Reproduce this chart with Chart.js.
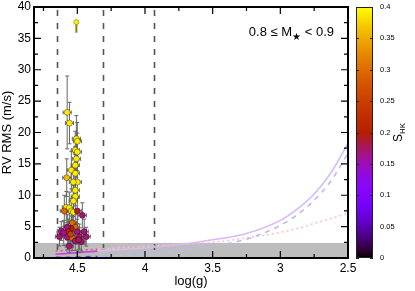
<!DOCTYPE html>
<html><head><meta charset="utf-8">
<script src="https://cdn.jsdelivr.net/npm/chart.js@4/dist/chart.umd.min.js"></script>
<style>html,body{margin:0;padding:0;background:#fff;overflow:hidden}#wrap{width:415px;height:291px;position:relative}</style>
</head><body><div id="wrap"><canvas id="c" width="415" height="291"></canvas></div>
<script>
// ---- data ----
const starLogg = [4.575,4.558,4.507,4.500,4.515,4.500,4.507,4.515,4.544,4.515,4.578,4.500,4.529,4.515,4.515,4.529,4.581,4.559,4.596,4.544,4.529,4.500,4.463,4.537,4.515,4.544,4.574,4.618,4.566,4.500,4.449,4.632,4.574,4.537,4.485,4.515,4.471,4.434,4.559,4.600,4.490,4.550];
const starRms = [23.2,21.5,19.0,18.6,17.2,16.9,15.8,14.8,14.0,13.5,12.8,12.1,12.1,10.8,9.8,9.1,8.1,8.0,7.5,7.5,7.3,7.5,6.8,5.6,4.9,4.7,4.9,4.3,4.2,4.2,4.2,3.4,3.3,3.2,3.4,2.7,2.6,3.4,1.9,4.0,2.9,3.8];
const starRmsErr = [5.8,3.3,3.7,3.0,3.0,3.0,3.0,3.0,3.0,3.0,3.0,2.5,2.5,2.5,2.5,2.5,2.5,2.5,2.5,2.0,2.0,2.0,2.0,2.0,2.0,2.0,2.0,1.5,2.0,2.0,2.0,1.5,2.0,2.0,2.0,1.5,1.5,1.5,1.0,2.0,2.0,2.0];
const starLoggErr = [0.03,0.03,0.03,0.03,0.03,0.03,0.03,0.03,0.03,0.03,0.03,0.03,0.03,0.03,0.03,0.03,0.03,0.03,0.03,0.03,0.03,0.03,0.03,0.03,0.03,0.03,0.03,0.03,0.03,0.03,0.03,0.03,0.03,0.03,0.03,0.03,0.03,0.03,0.03,0.03,0.03,0.03];
const starShk = [0.39,0.39,0.39,0.39,0.39,0.39,0.39,0.39,0.39,0.39,0.36,0.39,0.39,0.39,0.39,0.39,0.39,0.39,0.30,0.39,0.39,0.19,0.17,0.30,0.30,0.20,0.17,0.17,0.21,0.17,0.17,0.17,0.17,0.30,0.17,0.17,0.17,0.17,0.17,0.16,0.18,0.25];

const limitLogg = [4.507];
const limitRms = [37.6];
const limitErrLow = [1.7];
const limitShk = [0.39];

const modelLogg = [4.66,4.5,4.35,4.2,4.0,3.75,3.5,3.25,3.0,2.875,2.75,2.625,2.5];
const modelSolid = [0.6,0.85,1.1,1.3,1.6,2.1,2.9,3.9,6.0,7.8,10.2,13.6,18.3];
const modelDashed = [0.1,0.15,0.25,0.35,0.6,1.1,1.9,3.0,5.2,6.9,9.2,12.3,16.7];
const modelDotted = [1.1,1.25,1.4,1.6,1.85,2.15,2.5,3.2,4.1,4.7,5.5,6.3,7.1];
const modelStrongFrom = 4.35;

const noiseFloor = 2.4;
const boundaryLogg = [4.65, 4.31, 3.93];

const xTickValues = [4.75,4.5,4.25,4,3.75,3.5,3.25,3,2.75,2.5];
const yTickValues = [0,2.5,5,7.5,10,12.5,15,17.5,20,22.5,25,27.5,30,32.5,35,37.5,40];
const cbTickValues = [0,0.05,0.1,0.15,0.2,0.25,0.3,0.35,0.4];
const shkMax = 0.4;
const massLabel = ['0.8 \u2264 M', '\u2605', ' < 0.9'];

// ---- helpers ----
function shkColor(s){
  const t = Math.min(1, Math.max(0, s/shkMax));
  const r = Math.sqrt(t), g = t*t*t, b = Math.max(0, Math.sin(2*Math.PI*t));
  return 'rgb(' + Math.round(255*r) + ',' + Math.round(255*g) + ',' + Math.round(255*b) + ')';
}
const FONT = '"Liberation Sans", Arial, sans-serif';
const isMajor = (v, step) => Math.abs(v/step - Math.round(v/step)) < 1e-6;

function curve(vals, strong, faded, dash, width){
  return {
    data: modelLogg.map((v,i)=>({x:v, y:vals[i]})),
    showLine: true, pointRadius: 0, borderWidth: width, borderColor: faded,
    borderDash: dash, cubicInterpolationMode: 'monotone',
    segment: { borderColor: c => (c.p1.parsed.x >= modelStrongFrom - 1e-6 ? strong : faded) }
  };
}

const decor = {
  id: 'decor',
  beforeDatasetsDraw(chart){
    const {ctx, chartArea:a, scales:{x,y}} = chart;
    ctx.save();
    const yb = y.getPixelForValue(noiseFloor);
    ctx.fillStyle = '#bdbdbd';
    ctx.fillRect(a.left, yb, a.right - a.left, a.bottom - yb);
    ctx.strokeStyle = '#555'; ctx.lineWidth = 1.6; ctx.setLineDash([6,7]);
    boundaryLogg.forEach(v => {
      const px = Math.round(x.getPixelForValue(v)) + 0.5;
      ctx.beginPath(); ctx.moveTo(px, a.top + 3); ctx.lineTo(px, a.bottom); ctx.stroke();
    });
    ctx.restore();
  },
  beforeDatasetDraw(chart, args){
    const ds = chart.data.datasets[args.index];
    if (!ds.errLo) return;
    const {ctx, scales:{x,y}} = chart;
    ctx.save();
    ctx.strokeStyle = ds.errColor; ctx.lineWidth = ds.errWidth;
    ds.data.forEach((p, i) => {
      const px = x.getPixelForValue(p.x), py = y.getPixelForValue(p.y);
      const y0 = y.getPixelForValue(p.y - ds.errLo[i]), y1 = y.getPixelForValue(p.y + ds.errHi[i]);
      ctx.beginPath(); ctx.moveTo(px, y0); ctx.lineTo(px, y1); ctx.stroke();
      if (ds.caps) {
        ctx.beginPath();
        ctx.moveTo(px-2, y0); ctx.lineTo(px+2, y0);
        ctx.moveTo(px-2, y1); ctx.lineTo(px+2, y1);
        ctx.stroke();
      }
      if (ds.errX) {
        const x0 = x.getPixelForValue(p.x - ds.errX[i]), x1 = x.getPixelForValue(p.x + ds.errX[i]);
        ctx.beginPath(); ctx.moveTo(x0, py); ctx.lineTo(x1, py);
        ctx.moveTo(x0, py-2); ctx.lineTo(x0, py+2);
        ctx.moveTo(x1, py-2); ctx.lineTo(x1, py+2);
        ctx.stroke();
      }
    });
    ctx.restore();
  },
  afterDraw(chart){
    const {ctx, chartArea:a, scales:{x,y,cb}} = chart;
    ctx.save();
    ctx.strokeStyle = '#000'; ctx.lineWidth = 1.2;
    xTickValues.forEach(v => {
      const px = x.getPixelForValue(v), len = isMajor(v,0.5) ? 7 : 4;
      ctx.beginPath();
      ctx.moveTo(px, a.bottom); ctx.lineTo(px, a.bottom - len);
      ctx.moveTo(px, a.top); ctx.lineTo(px, a.top + len);
      ctx.stroke();
    });
    yTickValues.forEach(v => {
      const py = y.getPixelForValue(v), len = isMajor(v,5) ? 7 : 4;
      ctx.beginPath();
      ctx.moveTo(a.left, py); ctx.lineTo(a.left + len, py);
      ctx.moveTo(a.right, py); ctx.lineTo(a.right - len, py);
      ctx.stroke();
    });
    ctx.lineWidth = 2;
    ctx.strokeRect(a.left, a.top, a.right - a.left, a.bottom - a.top);

    // colour bar
    const cx0 = a.right + 8, cx1 = a.right + 25;
    const ct = cb.getPixelForValue(shkMax), cbt = cb.getPixelForValue(0);
    const grad = ctx.createLinearGradient(0, cbt, 0, ct);
    for (let k = 0; k <= 40; k++) grad.addColorStop(k/40, shkColor(shkMax*k/40));
    ctx.fillStyle = grad;
    ctx.fillRect(cx0, ct, cx1 - cx0, cbt - ct);
    ctx.strokeStyle = '#222'; ctx.lineWidth = 1;
    ctx.strokeRect(cx0 + 0.5, ct + 0.5, cx1 - cx0 - 1, cbt - ct - 1);
    cbTickValues.forEach(v => {
      const py = Math.round(cb.getPixelForValue(v)) + 0.5;
      ctx.beginPath();
      ctx.moveTo(cx0, py); ctx.lineTo(cx0 + 3, py);
      ctx.moveTo(cx1, py); ctx.lineTo(cx1 - 3, py);
      ctx.stroke();
    });
    // colour bar title S_HK
    ctx.fillStyle = '#000';
    ctx.translate(a.right + 54, (ct + cbt)/2);
    ctx.rotate(-Math.PI/2);
    ctx.font = '12px ' + FONT;
    const wS = ctx.measureText('S').width;
    ctx.font = '8px ' + FONT;
    const wH = ctx.measureText('HK').width;
    const start = -(wS + wH)/2;
    ctx.textBaseline = 'alphabetic'; ctx.textAlign = 'left';
    ctx.font = '12px ' + FONT; ctx.fillText('S', start, 0);
    ctx.font = '8px ' + FONT; ctx.fillText('HK', start + wS, 3);
    ctx.setTransform(1,0,0,1,0,0);

    // mass label
    ctx.fillStyle = '#000'; ctx.textBaseline = 'alphabetic'; ctx.textAlign = 'left';
    ctx.font = '13px ' + FONT;
    const w1 = ctx.measureText(massLabel[0]).width, w3 = ctx.measureText(massLabel[2]).width;
    ctx.font = '9.5px ' + FONT;
    const w2 = ctx.measureText(massLabel[1]).width;
    const right = a.right - 14, base = a.top + 29;
    let tx = right - (w1 + w2 + w3);
    ctx.font = '13px ' + FONT; ctx.fillText(massLabel[0], tx, base); tx += w1;
    ctx.font = '9.5px ' + FONT; ctx.fillText(massLabel[1], tx, base + 4); tx += w2;
    ctx.font = '13px ' + FONT; ctx.fillText(massLabel[2], tx, base);
    ctx.restore();
  }
};

const starPoints = starLogg.map((v,i)=>({x:v, y:starRms[i]}));
const limitPoints = limitLogg.map((v,i)=>({x:v, y:limitRms[i]}));

new Chart(document.getElementById('c'), {
  type: 'scatter',
  data: {
    datasets: [
      { data: starPoints, pointRadius: 3, pointBackgroundColor: starShk.map(shkColor),
        pointBorderColor: 'rgba(0,0,0,0.55)', pointBorderWidth: 0.7,
        errLo: starRmsErr, errHi: starRmsErr, errX: starLoggErr, errColor: '#666', errWidth: 1, caps: true },
      { data: limitPoints, pointRadius: 2.6, pointBackgroundColor: limitShk.map(shkColor),
        pointBorderColor: 'rgba(120,110,0,0.8)', pointBorderWidth: 0.6,
        errLo: limitErrLow, errHi: [0], errColor: '#8c7d14', errWidth: 2, caps: false },
      curve(modelSolid, 'rgb(200,60,230)', 'rgb(216,184,250)', [], 1.6),
      curve(modelDashed, 'rgb(70,70,230)', 'rgb(182,186,250)', [5,5], 1.6),
      curve(modelDotted, 'rgb(240,90,90)', 'rgb(255,192,192)', [2,3], 1.6)
    ]
  },
  options: {
    responsive: false, animation: false, devicePixelRatio: 1,
    layout: { padding: { top: 7, left: 0, right: 0, bottom: 0 } },
    plugins: { legend: { display: false }, tooltip: { enabled: false } },
    scales: {
      x: {
        type: 'linear', reverse: true, min: 2.5, max: 4.82,
        afterBuildTicks: s => { s.ticks = xTickValues.map(v => ({value: v})); },
        afterFit: s => { s.height = 33; s.paddingLeft = 0; s.paddingRight = 0; },
        grid: { display: false, drawTicks: false }, border: { display: false },
        ticks: { color: '#000', padding: 3, maxRotation: 0, autoSkip: false,
          font: { family: FONT, size: 12 },
          callback: v => isMajor(v, 0.5) ? String(v) : '' },
        title: { display: true, text: 'log(g)', color: '#000', font: { family: FONT, size: 13 }, padding: { top: 0, bottom: 2 } }
      },
      y: {
        type: 'linear', min: 0, max: 40,
        afterBuildTicks: s => { s.ticks = yTickValues.map(v => ({value: v})); },
        afterFit: s => { s.width = 34; s.paddingTop = 0; s.paddingBottom = 0; },
        grid: { display: false, drawTicks: false }, border: { display: false },
        ticks: { color: '#000', padding: 3, autoSkip: false,
          font: { family: FONT, size: 12 },
          callback: v => isMajor(v, 5) ? String(v) : '' },
        title: { display: true, text: 'RV RMS (m/s)', color: '#000', font: { family: FONT, size: 13 }, padding: { top: 0, bottom: 0 } }
      },
      cb: {
        type: 'linear', position: 'right', min: 0, max: shkMax,
        afterBuildTicks: s => { s.ticks = cbTickValues.map(v => ({value: v})); },
        afterFit: s => { s.width = 67; s.paddingTop = 0; s.paddingBottom = 0; },
        grid: { display: false, drawTicks: false }, border: { display: false },
        ticks: { color: '#000', padding: 32, autoSkip: false,
          font: { family: FONT, size: 7.5 },
          callback: v => String(Math.round(v*100)/100) }
      }
    }
  },
  plugins: [decor]
});
</script>
</body></html>
